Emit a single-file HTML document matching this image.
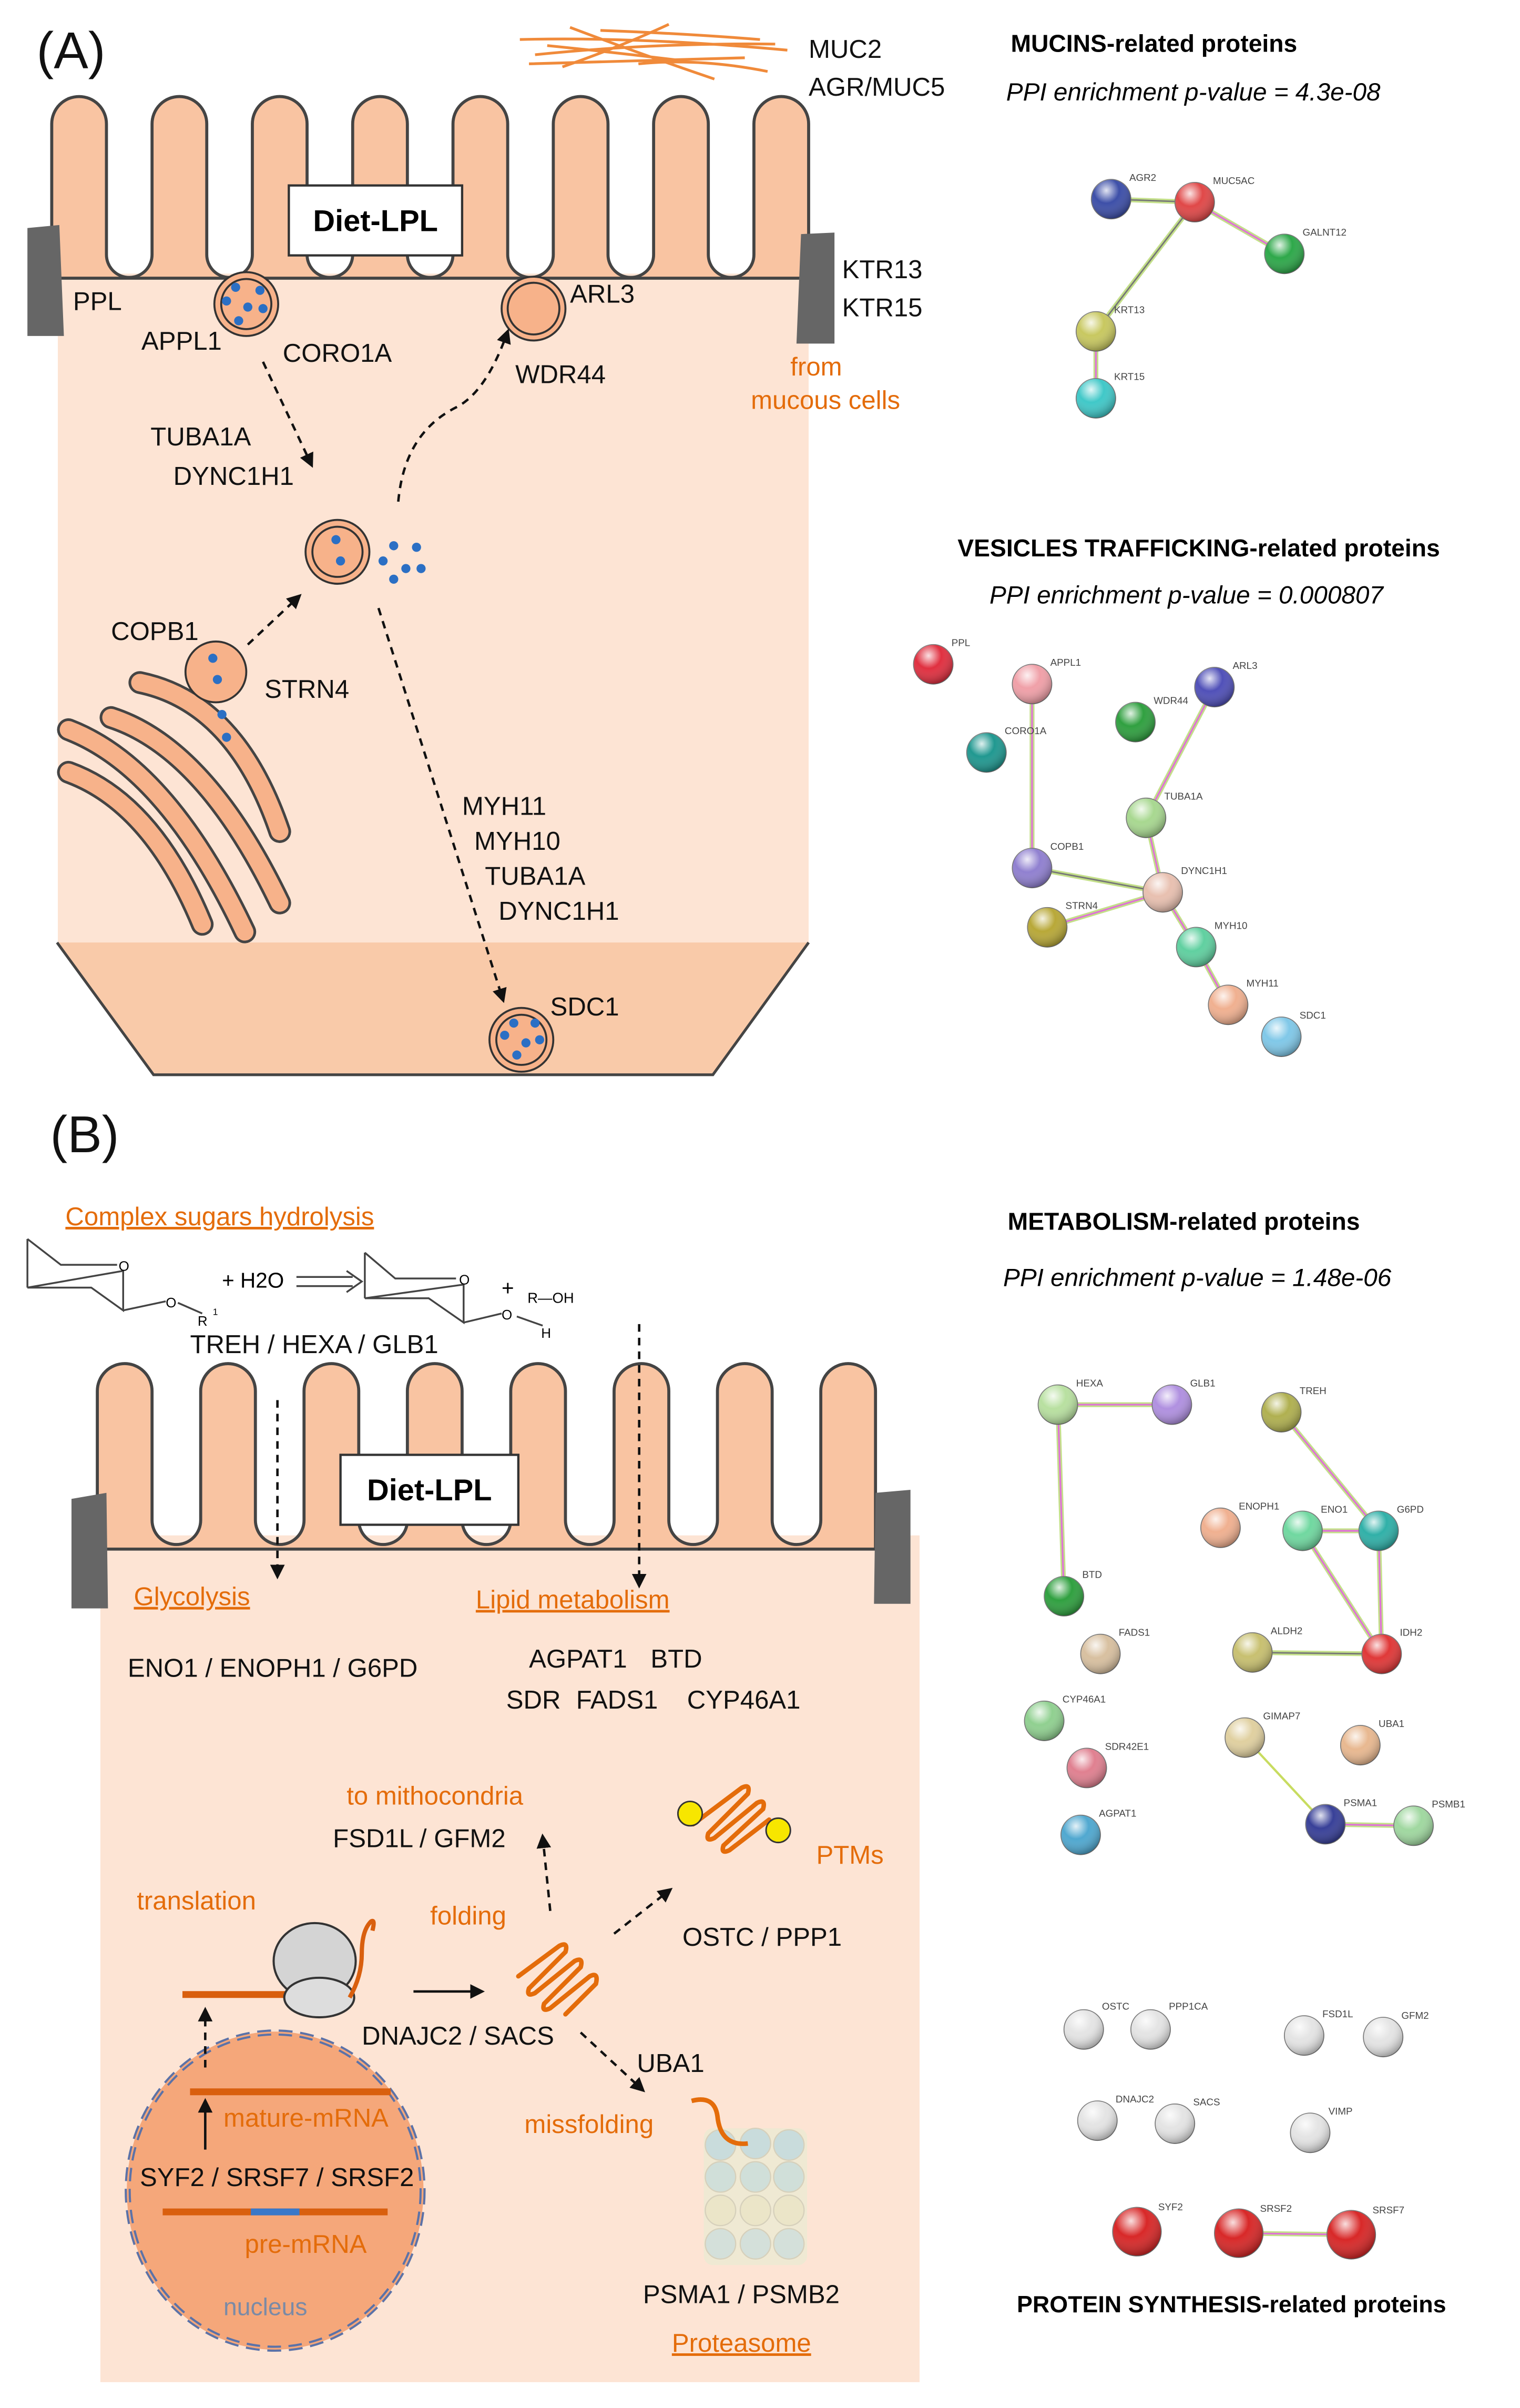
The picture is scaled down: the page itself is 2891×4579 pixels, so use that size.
<!DOCTYPE html>
<html><head><meta charset="utf-8"><style>
html,body{margin:0;padding:0;background:#fff}
svg{display:block}
text{font-family:"Liberation Sans",sans-serif}
</style></head><body>
<svg width="2891" height="4579" viewBox="0 0 1000 1584" xmlns="http://www.w3.org/2000/svg">
<defs>
<radialGradient id="g" cx="38%" cy="28%" r="72%"><stop offset="0" stop-color="#fff" stop-opacity=".85"/><stop offset=".45" stop-color="#fff" stop-opacity="0"/><stop offset="1" stop-color="#000" stop-opacity=".3"/></radialGradient>
<marker id="ah" viewBox="0 0 10 10" refX="8" refY="5" markerWidth="6" markerHeight="6" orient="auto"><path d="M0,0 L10,5 L0,10 z" fill="#111"/></marker>
</defs>
<style>
.t{font-size:17px;fill:#111}
.o{font-size:17px;fill:#e46c0a}
.n{font-size:6.5px;fill:#444}
.d{stroke:#111;stroke-width:1.6;fill:none;stroke-dasharray:5,4;marker-end:url(#ah)}
.s{stroke:#111;stroke-width:1.6;fill:none;marker-end:url(#ah)}
.e1{stroke:#c4e08a;stroke-width:3.2}
.e2{stroke:#e070d8;stroke-width:1.1}
.e3{stroke:#777;stroke-width:1}
</style>

<!-- PANEL A -->
<text x="24" y="45" style="font-size:34px" fill="#111">(A)</text>
<g stroke="#f08a3a" stroke-width="1.8" fill="none">
<path d="M342,26 Q420,24 518,33 M352,36 Q430,28 510,29 M348,42 Q420,40 490,38 M375,18 Q420,35 470,52 M440,16 Q410,30 370,44 M395,20 Q450,22 500,26 M420,42 Q460,38 505,47 M360,30 Q400,34 450,40"/>
</g>
<text x="532" y="38" class="t">MUC2</text>
<text x="532" y="63" class="t">AGR/MUC5</text>

<rect x="38" y="180" width="494" height="442" fill="#fde4d4"/>
<path d="M37.5,620 H532 L470,707 H101 Z" fill="#f9caa9"/>
<path d="M37.5,620 L101,707 H469 L532,620" fill="none" stroke="#444" stroke-width="1.8"/>
<path d="M34,183 V81.5 A18,18 0 0 1 70,81.5 V167.5 A15,15 0 0 0 100,167.5 V81.5 A18,18 0 0 1 136,81.5 V167.5 A15,15 0 0 0 166,167.5 V81.5 A18,18 0 0 1 202,81.5 V167.5 A15,15 0 0 0 232,167.5 V81.5 A18,18 0 0 1 268,81.5 V167.5 A15,15 0 0 0 298,167.5 V81.5 A18,18 0 0 1 334,81.5 V167.5 A15,15 0 0 0 364,167.5 V81.5 A18,18 0 0 1 400,81.5 V167.5 A15,15 0 0 0 430,167.5 V81.5 A18,18 0 0 1 466,81.5 V167.5 A15,15 0 0 0 496,167.5 V81.5 A18,18 0 0 1 532,81.5 V183 Z" fill="#f9c4a2" stroke="#444" stroke-width="2"/>
<rect x="35" y="184" width="496" height="0" fill="#f9c4a2"/>
<path d="M18,150 L39,148 L42,221 L18,221 Z" fill="#666"/>
<path d="M527,154 L549,153 L549,226 L524,226 Z" fill="#666"/>
<rect x="190" y="122" width="114" height="46" fill="#fff" stroke="#333" stroke-width="1.5"/>
<text x="247" y="152" text-anchor="middle" style="font-size:20px;font-weight:bold">Diet-LPL</text>

<!-- golgi -->
<g fill="none" stroke-linecap="round" stroke-linejoin="round">
<g stroke="#444" stroke-width="15">
<path d="M92,449 Q155,462 184,547"/>
<path d="M73,472 Q135,492 184,594"/>
<path d="M45,480 Q110,505 161,613"/>
<path d="M45,508 Q100,528 133,608"/>
</g>
<g stroke="#f7b28a" stroke-width="11.5">
<path d="M92,449 Q155,462 184,547"/>
<path d="M73,472 Q135,492 184,594"/>
<path d="M45,480 Q110,505 161,613"/>
<path d="M45,508 Q100,528 133,608"/>
</g>
</g>
<!-- vesicles A -->
<g fill="#f7b28a" stroke="#333" stroke-width="1.3">
<circle cx="162" cy="200" r="21"/><circle cx="162" cy="200" r="16.5" fill="none"/>
<circle cx="351" cy="203" r="21"/><circle cx="351" cy="203" r="17" fill="none"/>
<circle cx="222" cy="363" r="21"/><circle cx="222" cy="363" r="16.5" fill="none"/>
<circle cx="142" cy="442" r="20"/>
<circle cx="343" cy="684" r="21"/><circle cx="343" cy="684" r="16.5" fill="none"/>
</g>
<g fill="#2b6fc4">
<circle cx="155" cy="189" r="3"/><circle cx="171" cy="191" r="3"/><circle cx="149" cy="198" r="3"/><circle cx="163" cy="202" r="3"/><circle cx="173" cy="203" r="3"/><circle cx="157" cy="211" r="3"/>
<circle cx="221" cy="355" r="3"/><circle cx="224" cy="369" r="3"/>
<circle cx="259" cy="359" r="3"/><circle cx="274" cy="360" r="3"/><circle cx="252" cy="369" r="3"/><circle cx="267" cy="374" r="3"/><circle cx="277" cy="374" r="3"/><circle cx="259" cy="381" r="3"/>
<circle cx="140" cy="433" r="3"/><circle cx="143" cy="447" r="3"/><circle cx="146" cy="470" r="3"/><circle cx="149" cy="485" r="3"/>
<circle cx="338" cy="673" r="3"/><circle cx="352" cy="673" r="3"/><circle cx="332" cy="681" r="3"/><circle cx="346" cy="686" r="3"/><circle cx="355" cy="684" r="3"/><circle cx="340" cy="694" r="3"/>
</g>
<path class="d" d="M173,238 L205,306"/>
<path class="d" d="M262,330 Q266,285 300,268 Q320,258 334,218"/>
<path class="d" d="M163,424 L197,392"/>
<path class="d" d="M249,400 L331,658"/>

<text x="48" y="204" class="t">PPL</text>
<text x="93" y="230" class="t">APPL1</text>
<text x="186" y="238" class="t">CORO1A</text>
<text x="375" y="199" class="t">ARL3</text>
<text x="339" y="252" class="t">WDR44</text>
<text x="99" y="293" class="t">TUBA1A</text>
<text x="114" y="319" class="t">DYNC1H1</text>
<text x="73" y="421" class="t">COPB1</text>
<text x="174" y="459" class="t">STRN4</text>
<text x="304" y="536" class="t">MYH11</text>
<text x="312" y="559" class="t">MYH10</text>
<text x="319" y="582" class="t">TUBA1A</text>
<text x="328" y="605" class="t">DYNC1H1</text>
<text x="362" y="668" class="t">SDC1</text>
<text x="554" y="183" class="t">KTR13</text>
<text x="554" y="208" class="t">KTR15</text>
<text x="520" y="247" class="o">from</text>
<text x="494" y="269" class="o">mucous cells</text>

<!-- Right A -->
<text x="665" y="34" style="font-size:16px;font-weight:bold">MUCINS-related proteins</text>
<text x="662" y="66" style="font-size:16.5px;font-style:italic">PPI enrichment p-value = 4.3e-08</text>
<text x="630" y="366" style="font-size:16px;font-weight:bold">VESICLES TRAFFICKING-related proteins</text>
<text x="651" y="397" style="font-size:16.5px;font-style:italic">PPI enrichment p-value = 0.000807</text>
<g>
<line x1="731" y1="131" x2="786" y2="133" class="e1"/><line x1="731" y1="131" x2="786" y2="133" class="e3"/>
<line x1="786" y1="133" x2="845" y2="167" class="e1"/><line x1="786" y1="133" x2="845" y2="167" class="e2"/>
<line x1="786" y1="133" x2="721" y2="218" class="e1"/><line x1="786" y1="133" x2="721" y2="218" class="e3"/>
<line x1="721" y1="218" x2="721" y2="262" class="e1"/><line x1="721" y1="218" x2="721" y2="262" class="e2"/>
<line x1="799" y1="452" x2="754" y2="538" class="e1"/><line x1="799" y1="452" x2="754" y2="538" class="e2"/>
<line x1="754" y1="538" x2="765" y2="587" class="e1"/><line x1="754" y1="538" x2="765" y2="587" class="e2"/>
<line x1="679" y1="450" x2="679" y2="571" class="e1"/><line x1="679" y1="450" x2="679" y2="571" class="e2"/>
<line x1="679" y1="571" x2="765" y2="587" class="e1"/><line x1="679" y1="571" x2="765" y2="587" class="e3"/>
<line x1="689" y1="610" x2="765" y2="587" class="e1"/><line x1="689" y1="610" x2="765" y2="587" class="e2"/>
<line x1="765" y1="587" x2="787" y2="623" class="e1"/><line x1="765" y1="587" x2="787" y2="623" class="e2"/>
<line x1="787" y1="623" x2="808" y2="661" class="e1"/><line x1="787" y1="623" x2="808" y2="661" class="e2"/>
</g>

<!-- PANEL B -->
<text x="33" y="758" style="font-size:34px" fill="#111">(B)</text>
<text x="43" y="806" class="o" text-decoration="underline">Complex sugars hydrolysis</text>
<g stroke="#444" stroke-width="1.2" fill="none">
<path d="M18,815 L40,832 L77,832 M81,836 L81,862 L60,847 L18,847 Z M18,815 L18,847 M81,862 L109,856 M117,857 L133,864"/>
<path d="M240,824 L260,841 L300,841 M305,845 L305,870 L282,854 L240,854 Z M240,824 L240,854 M305,870 L330,864 M340,866 L357,872"/>
<path d="M195,840 L232,840 M195,846 L232,846 M228,836 L238,843 L228,850"/>
</g>
<text x="78" y="836" style="font-size:9px">O</text>
<text x="109" y="860" style="font-size:9px">O</text>
<text x="130" y="872" style="font-size:9px">R</text><text x="140" y="865" style="font-size:6px">1</text>
<text x="146" y="847" style="font-size:14px">+ H2O</text>
<text x="302" y="845" style="font-size:9px">O</text>
<text x="330" y="868" style="font-size:9px">O</text>
<text x="356" y="880" style="font-size:9px">H</text>
<text x="330" y="852" style="font-size:14px">+</text>
<text x="347" y="857" style="font-size:9.5px">R—OH</text>
<text x="125" y="890" class="t">TREH / HEXA / GLB1</text>

<rect x="66" y="1010" width="539" height="557" fill="#fde4d4"/>
<path d="M64,1019 V915 A18,18 0 0 1 100,915 V1000 A16,16 0 0 0 132,1000 V915 A18,18 0 0 1 168,915 V1000 A16,16 0 0 0 200,1000 V915 A18,18 0 0 1 236,915 V1000 A16,16 0 0 0 268,1000 V915 A18,18 0 0 1 304,915 V1000 A16,16 0 0 0 336,1000 V915 A18,18 0 0 1 372,915 V1000 A16,16 0 0 0 404,1000 V915 A18,18 0 0 1 440,915 V1000 A16,16 0 0 0 472,1000 V915 A18,18 0 0 1 508,915 V1000 A16,16 0 0 0 540,1000 V915 A18,18 0 0 1 576,915 V1019 Z" fill="#f9c4a2" stroke="#444" stroke-width="2"/>
<path d="M47,986 L70,982 L71,1058 L47,1058 Z" fill="#666"/>
<path d="M576,982 L599,980 L599,1055 L575,1055 Z" fill="#666"/>
<rect x="224" y="957" width="117" height="46" fill="#fff" stroke="#333" stroke-width="1.5"/>
<text x="282.5" y="987" text-anchor="middle" style="font-size:20px;font-weight:bold">Diet-LPL</text>
<path class="d" d="M182.5,921 L182.5,1037"/>
<path class="d" d="M420.5,871 L420.5,1043"/>

<text x="88" y="1056" class="o" text-decoration="underline">Glycolysis</text>
<text x="313" y="1058" class="o" text-decoration="underline">Lipid metabolism</text>
<text x="84" y="1103" class="t">ENO1 / ENOPH1 / G6PD</text>
<text x="348" y="1097" class="t">AGPAT1</text><text x="428" y="1097" class="t">BTD</text>
<text x="333" y="1124" class="t">SDR</text><text x="379" y="1124" class="t">FADS1</text><text x="452" y="1124" class="t">CYP46A1</text>
<text x="228" y="1187" class="o">to mithocondria</text>
<text x="219" y="1215" class="t">FSD1L / GFM2</text>
<text x="537" y="1226" class="o">PTMs</text>
<text x="90" y="1256" class="o">translation</text>
<text x="283" y="1266" class="o">folding</text>
<text x="449" y="1280" class="t">OSTC / PPP1</text>
<text x="238" y="1345" class="t">DNAJC2 / SACS</text>
<text x="419" y="1363" class="t">UBA1</text>
<text x="345" y="1403" class="o">missfolding</text>
<text x="423" y="1515" class="t">PSMA1 / PSMB2</text>
<text x="442" y="1547" class="o" text-decoration="underline">Proteasome</text>

<!-- nucleus -->
<ellipse cx="181" cy="1441" rx="97" ry="104" fill="#f5a77a" stroke="#5b72a8" stroke-width="4" stroke-dasharray="9,5"/>
<ellipse cx="181" cy="1441" rx="97" ry="104" fill="none" stroke="#f5a77a" stroke-width="1.2"/>
<line x1="125" y1="1376" x2="257" y2="1376" stroke="#d95f0e" stroke-width="4.5"/>
<line x1="107" y1="1455" x2="255" y2="1455" stroke="#d95f0e" stroke-width="4.5"/>
<line x1="165" y1="1455" x2="197" y2="1455" stroke="#3a78c8" stroke-width="4.5"/>
<text x="147" y="1399" class="o">mature-mRNA</text>
<text x="92" y="1438" class="t">SYF2 / SRSF7 / SRSF2</text>
<text x="161" y="1482" class="o">pre-mRNA</text>
<text x="147" y="1523" style="font-size:16px" fill="#7a8aa6">nucleus</text>
<path class="s" d="M135,1414 L135,1382"/>
<path class="d" d="M135,1360 L135,1322"/>
<!-- ribosome -->
<line x1="120" y1="1312" x2="190" y2="1312" stroke="#d95f0e" stroke-width="4.5"/>
<ellipse cx="207" cy="1290" rx="27" ry="25" fill="#d4d4d4" stroke="#333" stroke-width="1.4"/>
<ellipse cx="210" cy="1314" rx="23" ry="13" fill="#ddd" stroke="#333" stroke-width="1.4"/>
<path d="M230,1314 Q238,1300 238,1285 Q238,1270 244,1264 Q247,1262 245,1270" stroke="#d95f0e" stroke-width="2.8" fill="none"/>
<path class="s" d="M272,1310 L317,1310"/>
<!-- folding coil -->
<g stroke="#e46c0a" stroke-width="3" fill="none" stroke-linecap="round">
<path d="M341,1300 L368,1280 Q374,1277 372,1284 L348,1308 Q346,1314 352,1311 L378,1290 Q384,1287 382,1294 L358,1318 Q356,1324 362,1321 L388,1300 Q394,1297 392,1305 L372,1325"/>
</g>
<path class="d" d="M362,1257 L357,1208"/>
<path class="d" d="M404,1272 L441,1243"/>
<path class="d" d="M382,1337 L423,1375"/>
<!-- PTM -->
<g stroke="#e46c0a" stroke-width="3" fill="none" stroke-linecap="round">
<path d="M456,1200 L488,1176 Q494,1173 492,1180 L466,1206 Q464,1212 470,1209 L498,1186 Q504,1183 502,1190 L476,1214 Q474,1220 480,1217 L506,1197"/>
</g>
<circle cx="454" cy="1193" r="8" fill="#f7e600" stroke="#333"/>
<circle cx="512" cy="1204" r="8" fill="#f7e600" stroke="#333"/>
<!-- proteasome -->
<g stroke="#d6d0bb" stroke-width=".8">
<rect x="463" y="1400" width="68" height="90" fill="#efe9d3" stroke="none" rx="6"/>
<circle cx="474" cy="1411" r="10" fill="#c9dcdc"/><circle cx="497" cy="1410" r="10" fill="#c9dcdc"/><circle cx="519" cy="1411" r="10" fill="#c9dcdc"/>
<circle cx="474" cy="1432" r="10" fill="#d0dfd9"/><circle cx="497" cy="1432" r="10" fill="#d0dfd9"/><circle cx="519" cy="1432" r="10" fill="#d0dfd9"/>
<circle cx="474" cy="1454" r="10" fill="#ebe5c8"/><circle cx="497" cy="1454" r="10" fill="#ebe5c8"/><circle cx="519" cy="1454" r="10" fill="#ebe5c8"/>
<circle cx="474" cy="1476" r="10" fill="#d4e0da"/><circle cx="497" cy="1476" r="10" fill="#d4e0da"/><circle cx="519" cy="1476" r="10" fill="#d4e0da"/>
</g>
<path d="M455,1382 Q470,1378 472,1392 Q474,1412 492,1410" stroke="#e46c0a" stroke-width="3" fill="none"/>

<!-- Right B -->
<text x="663" y="809" style="font-size:16px;font-weight:bold">METABOLISM-related proteins</text>
<text x="660" y="846" style="font-size:16.5px;font-style:italic">PPI enrichment p-value = 1.48e-06</text>
<text x="669" y="1521" style="font-size:15.5px;font-weight:bold">PROTEIN SYNTHESIS-related proteins</text>
<g>
<line x1="696" y1="924" x2="771" y2="924" class="e1"/><line x1="696" y1="924" x2="771" y2="924" class="e2"/>
<line x1="696" y1="924" x2="700" y2="1050" class="e1"/><line x1="696" y1="924" x2="700" y2="1050" class="e2"/>
<line x1="843" y1="929" x2="907" y2="1007" class="e1"/><line x1="843" y1="929" x2="907" y2="1007" class="e2"/>
<line x1="857" y1="1007" x2="907" y2="1007" class="e1"/><line x1="857" y1="1007" x2="907" y2="1007" class="e2"/>
<line x1="907" y1="1007" x2="909" y2="1088" class="e1"/><line x1="907" y1="1007" x2="909" y2="1088" class="e2"/>
<line x1="857" y1="1007" x2="909" y2="1088" class="e1"/><line x1="857" y1="1007" x2="909" y2="1088" class="e2"/>
<line x1="824" y1="1087" x2="909" y2="1088" class="e1"/><line x1="824" y1="1087" x2="909" y2="1088" class="e3"/>
<line x1="819" y1="1143" x2="872" y2="1200" stroke="#c8dc60" stroke-width="1.5"/>
<line x1="872" y1="1200" x2="930" y2="1201" class="e1"/><line x1="872" y1="1200" x2="930" y2="1201" class="e2"/>
<line x1="815" y1="1469" x2="889" y2="1470" class="e1"/><line x1="815" y1="1469" x2="889" y2="1470" class="e2"/>
</g>
<!-- nodes -->
<g stroke="#777" stroke-width=".6">
<circle cx="731" cy="131" r="13" fill="#3d4fa8"/><circle cx="786" cy="133" r="13" fill="#e04848"/><circle cx="845" cy="167" r="13" fill="#2ea84a"/><circle cx="721" cy="218" r="13" fill="#c8c860"/><circle cx="721" cy="262" r="13" fill="#40c8c8"/>
<circle cx="614" cy="437" r="13" fill="#e03040"/><circle cx="679" cy="450" r="13" fill="#f0a0a8"/><circle cx="649" cy="495" r="13" fill="#209890"/><circle cx="747" cy="475" r="13" fill="#30a040"/><circle cx="799" cy="452" r="13" fill="#5050b8"/><circle cx="754" cy="538" r="13" fill="#a8d890"/><circle cx="679" cy="571" r="13" fill="#9080d0"/><circle cx="765" cy="587" r="13" fill="#e8c0b0"/><circle cx="689" cy="610" r="13" fill="#b8a838"/><circle cx="787" cy="623" r="13" fill="#60d0a0"/><circle cx="808" cy="661" r="13" fill="#f0b090"/><circle cx="843" cy="682" r="13" fill="#80c8e8"/>
<circle cx="696" cy="924" r="13" fill="#b8e0a0"/><circle cx="771" cy="924" r="13" fill="#b090e0"/><circle cx="700" cy="1050" r="13" fill="#30a040"/><circle cx="843" cy="929" r="13" fill="#b0b050"/><circle cx="803" cy="1005" r="13" fill="#f0b090"/><circle cx="857" cy="1007" r="13" fill="#70d8a0"/><circle cx="907" cy="1007" r="13" fill="#30b0a8"/><circle cx="724" cy="1088" r="13" fill="#d8c0a0"/><circle cx="824" cy="1087" r="13" fill="#c8c070"/><circle cx="909" cy="1088" r="13" fill="#e03838"/><circle cx="687" cy="1132" r="13" fill="#90d090"/><circle cx="715" cy="1163" r="13" fill="#e08090"/><circle cx="819" cy="1143" r="13" fill="#e0d0a0"/><circle cx="895" cy="1148" r="13" fill="#e8b890"/><circle cx="711" cy="1207" r="13" fill="#50a8d0"/><circle cx="872" cy="1200" r="13" fill="#384098"/><circle cx="930" cy="1201" r="13" fill="#a0d8a0"/>
<circle cx="713" cy="1335" r="13" fill="#e4e4e4"/><circle cx="757" cy="1335" r="13" fill="#e4e4e4"/><circle cx="858" cy="1339" r="13" fill="#e4e4e4"/><circle cx="910" cy="1340" r="13" fill="#e4e4e4"/><circle cx="722" cy="1395" r="13" fill="#e4e4e4"/><circle cx="773" cy="1397" r="13" fill="#e4e4e4"/><circle cx="862" cy="1403" r="13" fill="#e4e4e4"/>
<circle cx="748" cy="1468" r="16" fill="#d82828"/><circle cx="815" cy="1469" r="16" fill="#d82828"/><circle cx="889" cy="1470" r="16" fill="#d82828"/>
</g>
<g fill="url(#g)">
<circle cx="731" cy="131" r="13"/><circle cx="786" cy="133" r="13"/><circle cx="845" cy="167" r="13"/><circle cx="721" cy="218" r="13"/><circle cx="721" cy="262" r="13"/>
<circle cx="614" cy="437" r="13"/><circle cx="679" cy="450" r="13"/><circle cx="649" cy="495" r="13"/><circle cx="747" cy="475" r="13"/><circle cx="799" cy="452" r="13"/><circle cx="754" cy="538" r="13"/><circle cx="679" cy="571" r="13"/><circle cx="765" cy="587" r="13"/><circle cx="689" cy="610" r="13"/><circle cx="787" cy="623" r="13"/><circle cx="808" cy="661" r="13"/><circle cx="843" cy="682" r="13"/>
<circle cx="696" cy="924" r="13"/><circle cx="771" cy="924" r="13"/><circle cx="700" cy="1050" r="13"/><circle cx="843" cy="929" r="13"/><circle cx="803" cy="1005" r="13"/><circle cx="857" cy="1007" r="13"/><circle cx="907" cy="1007" r="13"/><circle cx="724" cy="1088" r="13"/><circle cx="824" cy="1087" r="13"/><circle cx="909" cy="1088" r="13"/><circle cx="687" cy="1132" r="13"/><circle cx="715" cy="1163" r="13"/><circle cx="819" cy="1143" r="13"/><circle cx="895" cy="1148" r="13"/><circle cx="711" cy="1207" r="13"/><circle cx="872" cy="1200" r="13"/><circle cx="930" cy="1201" r="13"/>
<circle cx="713" cy="1335" r="13"/><circle cx="757" cy="1335" r="13"/><circle cx="858" cy="1339" r="13"/><circle cx="910" cy="1340" r="13"/><circle cx="722" cy="1395" r="13"/><circle cx="773" cy="1397" r="13"/><circle cx="862" cy="1403" r="13"/>
<circle cx="748" cy="1468" r="16"/><circle cx="815" cy="1469" r="16"/><circle cx="889" cy="1470" r="16"/>
</g>
<g>
<text x="743" y="119" class="n">AGR2</text><text x="798" y="121" class="n">MUC5AC</text><text x="857" y="155" class="n">GALNT12</text><text x="733" y="206" class="n">KRT13</text><text x="733" y="250" class="n">KRT15</text>
<text x="626" y="425" class="n">PPL</text><text x="691" y="438" class="n">APPL1</text><text x="661" y="483" class="n">CORO1A</text><text x="759" y="463" class="n">WDR44</text><text x="811" y="440" class="n">ARL3</text><text x="766" y="526" class="n">TUBA1A</text><text x="691" y="559" class="n">COPB1</text><text x="777" y="575" class="n">DYNC1H1</text><text x="701" y="598" class="n">STRN4</text><text x="799" y="611" class="n">MYH10</text><text x="820" y="649" class="n">MYH11</text><text x="855" y="670" class="n">SDC1</text>
<text x="708" y="912" class="n">HEXA</text><text x="783" y="912" class="n">GLB1</text><text x="855" y="917" class="n">TREH</text><text x="815" y="993" class="n">ENOPH1</text><text x="869" y="995" class="n">ENO1</text><text x="919" y="995" class="n">G6PD</text><text x="712" y="1038" class="n">BTD</text><text x="736" y="1076" class="n">FADS1</text><text x="836" y="1075" class="n">ALDH2</text><text x="921" y="1076" class="n">IDH2</text><text x="699" y="1120" class="n">CYP46A1</text><text x="727" y="1151" class="n">SDR42E1</text><text x="831" y="1131" class="n">GIMAP7</text><text x="907" y="1136" class="n">UBA1</text><text x="723" y="1195" class="n">AGPAT1</text><text x="884" y="1188" class="n">PSMA1</text><text x="942" y="1189" class="n">PSMB1</text>
<text x="725" y="1322" class="n">OSTC</text><text x="769" y="1322" class="n">PPP1CA</text><text x="870" y="1327" class="n">FSD1L</text><text x="922" y="1328" class="n">GFM2</text><text x="734" y="1383" class="n">DNAJC2</text><text x="785" y="1385" class="n">SACS</text><text x="874" y="1391" class="n">VIMP</text>
<text x="762" y="1454" class="n">SYF2</text><text x="829" y="1455" class="n">SRSF2</text><text x="903" y="1456" class="n">SRSF7</text>
</g>
</svg>
</body></html>
